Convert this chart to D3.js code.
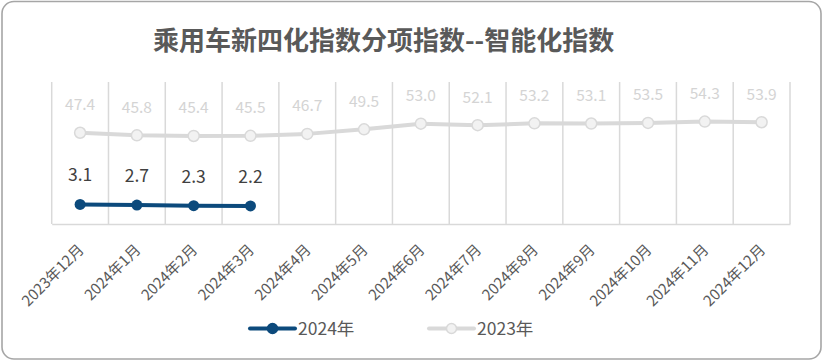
<!DOCTYPE html>
<html><head><meta charset="utf-8">
<script src="https://cdn.jsdelivr.net/npm/d3@7/dist/d3.min.js"></script>
<style>html,body{margin:0;padding:0;background:#fff;}svg{display:block;}</style>
</head><body>
<script>
const categories = ["2023年12月","2024年1月","2024年2月","2024年3月","2024年4月","2024年5月","2024年6月","2024年7月","2024年8月","2024年9月","2024年10月","2024年11月","2024年12月"];
const values2024 = [3.1, 2.7, 2.3, 2.2];
const values2023 = [47.4, 45.8, 45.4, 45.5, 46.7, 49.5, 53.0, 52.1, 53.2, 53.1, 53.5, 54.3, 53.9];
const seriesNames = ["2024年", "2023年"];
const title = "乘用车新四化指数分项指数--智能化指数";

(function(){
const W = 823, H = 361;
const font = "'Noto Sans CJK SC','Microsoft YaHei',sans-serif";
const svg = d3.select("body").append("svg").attr("width", W).attr("height", H);

svg.append("rect").attr("x", 2).attr("y", 1.5).attr("width", 819).attr("height", 357.5)
  .attr("rx", 12).attr("fill", "#fff").attr("stroke", "#a6a6a6").attr("stroke-width", 1.6);

svg.append("text").attr("x", 153).attr("y", 50).attr("font-family", font)
  .attr("font-size", 26).attr("font-weight", "bold").attr("fill", "#595959").text(title);

const pLeft = 51.7, pRight = 790, pTop = 82, pBottom = 224;
const x = d3.scaleBand().domain(categories).range([pLeft, pRight]).padding(0);
const y = d3.scaleLinear().domain([-9, 80]).range([pBottom, 80]);

const bounds = categories.map(c => x(c)).concat([pRight]);
svg.append("g").selectAll("line").data(bounds).join("line")
  .attr("x1", d => d).attr("x2", d => d).attr("y1", pTop).attr("y2", pBottom)
  .attr("stroke", "#d9d9d9").attr("stroke-width", 1.5);

const xAxis = svg.append("g").attr("transform", `translate(0,${pBottom})`)
  .call(d3.axisBottom(x).tickSize(0).tickPadding(0));
xAxis.select(".domain").attr("stroke", "#d9d9d9").attr("stroke-width", 1.5);
xAxis.selectAll(".tick text")
  .attr("font-family", font).attr("font-size", 15).attr("fill", "#595959")
  .attr("text-anchor", "end")
  .attr("transform", "translate(1,23) rotate(-45)")
  .attr("dy", "0.35em").attr("y", 0).attr("x", 0);

const cx = c => x(c) + x.bandwidth() / 2;
const line = d3.line().x(d => cx(d.c)).y(d => y(d.v));

const d23 = values2023.map((v, i) => ({c: categories[i], v}));
const d24 = values2024.map((v, i) => ({c: categories[i], v}));

svg.append("path").datum(d23).attr("d", line).attr("fill", "none")
  .attr("stroke", "#d9d9d9").attr("stroke-width", 4).attr("stroke-linejoin", "round");
svg.append("g").selectAll("circle").data(d23).join("circle")
  .attr("cx", d => cx(d.c)).attr("cy", d => y(d.v)).attr("r", 5.5)
  .attr("fill", "#f2f2f2").attr("stroke", "#d9d9d9").attr("stroke-width", 1.5);
svg.append("g").selectAll("text").data(d23).join("text")
  .attr("x", d => cx(d.c)).attr("y", d => y(d.v) - 22.5).attr("text-anchor", "middle")
  .attr("font-family", font).attr("font-size", 15.5).attr("fill", "#d4d4d4")
  .text(d => d.v.toFixed(1));

svg.append("path").datum(d24).attr("d", line).attr("fill", "none")
  .attr("stroke", "#0c4a7c").attr("stroke-width", 4).attr("stroke-linejoin", "round");
svg.append("g").selectAll("circle").data(d24).join("circle")
  .attr("cx", d => cx(d.c)).attr("cy", d => y(d.v)).attr("r", 5.5).attr("fill", "#0c4a7c");
svg.append("g").selectAll("text").data(d24).join("text")
  .attr("x", d => cx(d.c)).attr("y", d => y(d.v) - 23).attr("text-anchor", "middle")
  .attr("font-family", font).attr("font-size", 17.5).attr("fill", "#404040")
  .text(d => d.v.toFixed(1));

const legend = [
  {name: seriesNames[0], x: 250, color: "#0c4a7c", fill: "#0c4a7c"},
  {name: seriesNames[1], x: 429, color: "#d9d9d9", fill: "#f2f2f2"}
];
const lg = svg.append("g").selectAll("g").data(legend).join("g")
  .attr("transform", d => `translate(${d.x},328.5)`);
lg.append("line").attr("x1", 0).attr("x2", 45).attr("stroke", d => d.color)
  .attr("stroke-width", 4).attr("stroke-linecap", "round");
lg.append("circle").attr("cx", 22.5).attr("r", 5).attr("fill", d => d.fill)
  .attr("stroke", d => d.color).attr("stroke-width", 1.5);
lg.append("text").attr("x", 48).attr("dy", "0.35em").attr("font-family", font)
  .attr("font-size", 17.5).attr("fill", "#595959").text(d => d.name);
})();
</script>
</body></html>
